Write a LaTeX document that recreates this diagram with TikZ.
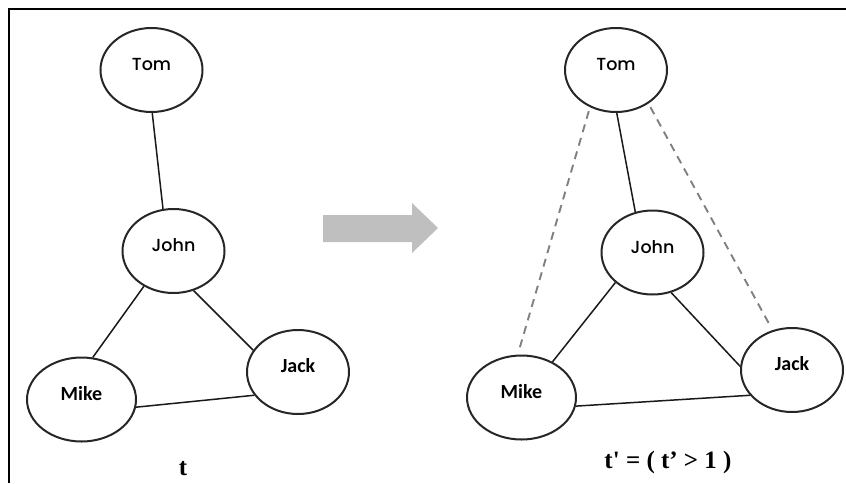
\documentclass[tikz,border=0pt]{standalone}
\usepackage{fontspec}
\usepackage{tikz}
\usetikzlibrary{shapes.geometric}

\setmainfont{Liberation Serif}
\newfontfamily\namefont{Carlito}
\newfontfamily\roundfont{Poppins Medium}
\newfontfamily\lblfont{Liberation Serif}[Ligatures=TeXOff]

\begin{document}
\begin{tikzpicture}[x=1pt,y=-1pt]

  \tikzstyle{person}=[ellipse,draw=black!85,line width=2pt,
    minimum width=102pt,minimum height=84pt,inner sep=0pt,
    text height=13pt,text depth=12pt]
  \tikzstyle{wide}=[minimum width=109pt]
  \tikzstyle{rnd}=[font=\roundfont\fontsize{17.5}{20}\selectfont]
  \tikzstyle{cal}=[font=\namefont\bfseries\fontsize{20}{24}\selectfont]
  \tikzstyle{caption}=[anchor=base,font=\lblfont\bfseries\fontsize{25}{29}\selectfont]

  \useasboundingbox (0,0) rectangle (846,483);
  \draw [line width=1.8pt] (846,9) -- (9,9) -- (9,483);

  %% before
  \node  (tom)   at (151.5,70)   [person,rnd]      {Tom};
  \node  (john)  at (173.5,251)  [person,rnd]      {John};
  \node  (mike)  at (81.5,399.5) [person,cal,wide] {Mike};
  \node  (jack)  at (298,372)    [person,cal]      {Jack};
  \node  (t)     at (183,475)    [caption]         {t};

  %% after
  \node  (tom2)  at (616,70)     [person,rnd]      {Tom};
  \node  (john2) at (652.5,252.5)[person,rnd]      {John};
  \node  (mike2) at (521.5,397.5)[person,cal,wide] {Mike};
  \node  (jack2) at (792,370)    [person,cal]      {Jack};
  \node  (t2)    at (668,468)    [caption]         {t' = ( t’ > 1 )};

  %% big arrow
  \fill [black!25] (323,215) -- (412,215) -- (412,203) -- (438,228)
        -- (412,253) -- (412,242) -- (323,242) -- cycle;

  \tikzstyle{link}=[line width=1.5pt,draw=black!90]
  \tikzstyle{guess}=[line width=1.9pt,draw=black!50,
    dash pattern=on 8pt off 6pt,shorten <=4pt,shorten >=4pt]

  \path (tom.-89)   edge [link] (john.104)
        (john.-130) edge [link] (mike.75)
        (john.-63)  edge [link] (jack.154)
        (mike.-8)   edge [link] (jack.208);

  \path (tom2.-89)   edge [link] (john2.113)
        (john2.-141) edge [link] (mike2.49)
        (john2.-65)  edge [link] (jack2.176)
        (mike2.-9)   edge [link] (jack2.211)
        (tom2.-125)  edge [guess] (mike2.95)
        (tom2.-46)   edge [guess] (jack2.116);
\end{tikzpicture}
\end{document}
